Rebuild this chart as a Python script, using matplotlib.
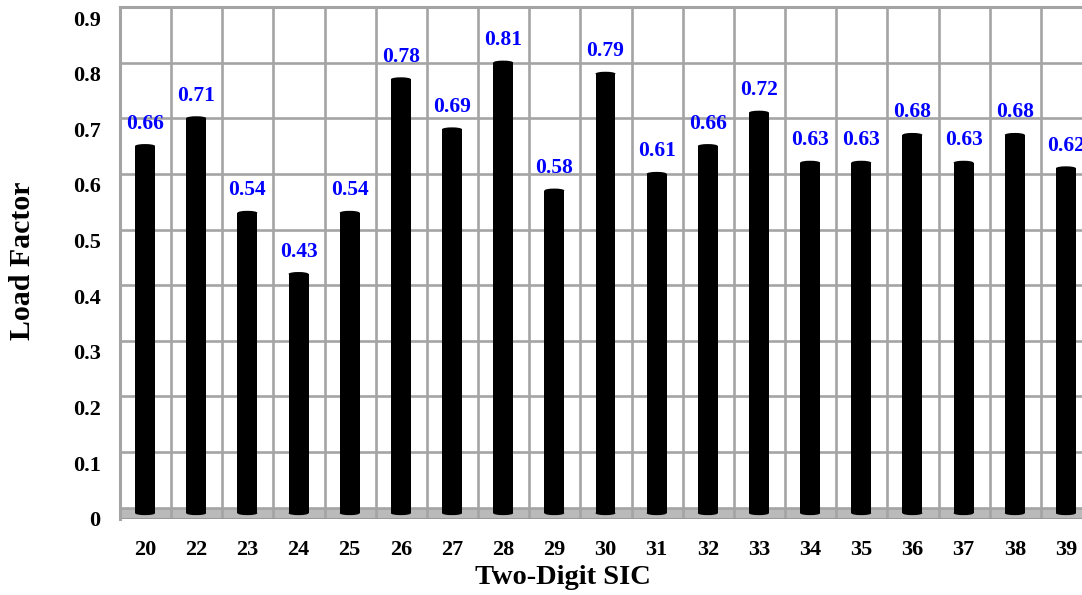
import matplotlib
matplotlib.use("Agg")
import matplotlib.pyplot as plt
from matplotlib.patches import Ellipse, Rectangle
from matplotlib.transforms import ScaledTranslation
import numpy as np

# Load factor by two-digit SIC code
sic_codes = ["20", "22", "23", "24", "25", "26", "27", "28", "29", "30",
             "31", "32", "33", "34", "35", "36", "37", "38", "39"]
load_factor = [0.66, 0.71, 0.54, 0.43, 0.54, 0.78, 0.69, 0.81, 0.58, 0.79,
               0.61, 0.66, 0.72, 0.63, 0.63, 0.68, 0.63, 0.68, 0.62]
y_ticks = [0.0, 0.1, 0.2, 0.3, 0.4, 0.5, 0.6, 0.7, 0.8, 0.9]
y_tick_labels = ["0", "0.1", "0.2", "0.3", "0.4", "0.5", "0.6", "0.7", "0.8", "0.9"]

plt.rcParams["font.family"] = ["Liberation Serif", "DejaVu Serif"]
plt.rcParams["font.weight"] = "bold"

W, H = 1082, 595
fig = plt.figure(figsize=(W / 100, H / 100), dpi=100)
# plot wall runs past the right edge of the canvas
left_px, right_px, top_px, bottom_px = 120, 1092, 7, 518.7
ax = fig.add_axes([left_px / W, 1 - bottom_px / H,
                   (right_px - left_px) / W, (bottom_px - top_px) / H])

floor_depth = 0.0198
n = len(sic_codes)
ax.set_xlim(0, n)
ax.set_ylim(-floor_depth, 0.9)

grid_col = "#a4a4a4"
# floor band
ax.add_patch(Rectangle((0, -floor_depth), n, floor_depth, facecolor="#bababa",
                       edgecolor="none", zorder=1))
ax.axhline(-floor_depth, color="#9a9a9a", lw=2.2, zorder=2)
# horizontal grid on the back wall
for v in y_ticks:
    ax.axhline(v, color=grid_col, lw=1.9, zorder=1.5)
# vertical grid between categories
for k in range(n + 1):
    ax.axvline(k, color=grid_col, lw=1.9, zorder=1.5)

# cylindrical bars, standing half way into the floor depth
mid_plane = ax.transData + ScaledTranslation(0, -5.5 / 100, fig.dpi_scale_trans)
x = np.arange(n) + 0.49
bw = 0.39
cap_h = 0.007
for xi, v in zip(x, load_factor):
    base = 0.0
    ax.add_patch(Rectangle((xi - bw / 2, base), bw, v - base, facecolor="black",
                           edgecolor="none", zorder=3, transform=mid_plane))
    ax.add_patch(Ellipse((xi, v), bw, cap_h, facecolor="black", edgecolor="none",
                         zorder=3, transform=mid_plane))
    ax.add_patch(Ellipse((xi, base), bw, cap_h, facecolor="black", edgecolor="none",
                         zorder=3, transform=mid_plane))
    ax.annotate(f"{v:.2f}", (xi, v), xytext=(0, 5), textcoords="offset points",
                ha="center", va="bottom", color="#0000ff", fontsize=15.5,
                fontweight="bold", zorder=4, annotation_clip=False)

for s in ["right", "bottom"]:
    ax.spines[s].set_visible(False)
for s in ["left", "top"]:
    ax.spines[s].set_color(grid_col)
    ax.spines[s].set_linewidth(2.2)

ax.set_xticks(x)
ax.set_xticklabels(sic_codes, fontsize=16, fontweight="bold")
ax.set_yticks(y_ticks)
ax.set_yticklabels(y_tick_labels, fontsize=16, fontweight="bold")
ax.tick_params(axis="both", length=0)
ax.tick_params(axis="x", pad=15)
ax.tick_params(axis="y", pad=14)
# tick labels sit on the front edge of the floor
shift = ScaledTranslation(0, -11 / 100, fig.dpi_scale_trans)
for lbl in ax.get_yticklabels():
    lbl.set_transform(lbl.get_transform() + shift)

fig.text(563 / W, 1 - 578 / H, "Two-Digit SIC", ha="center", va="center",
         fontsize=20.5, fontweight="bold")
fig.text(23 / W, 1 - 261 / H, "Load Factor", ha="center", va="center",
         rotation=90, fontsize=21.5, fontweight="bold")

fig.savefig("out.png", dpi=100)
